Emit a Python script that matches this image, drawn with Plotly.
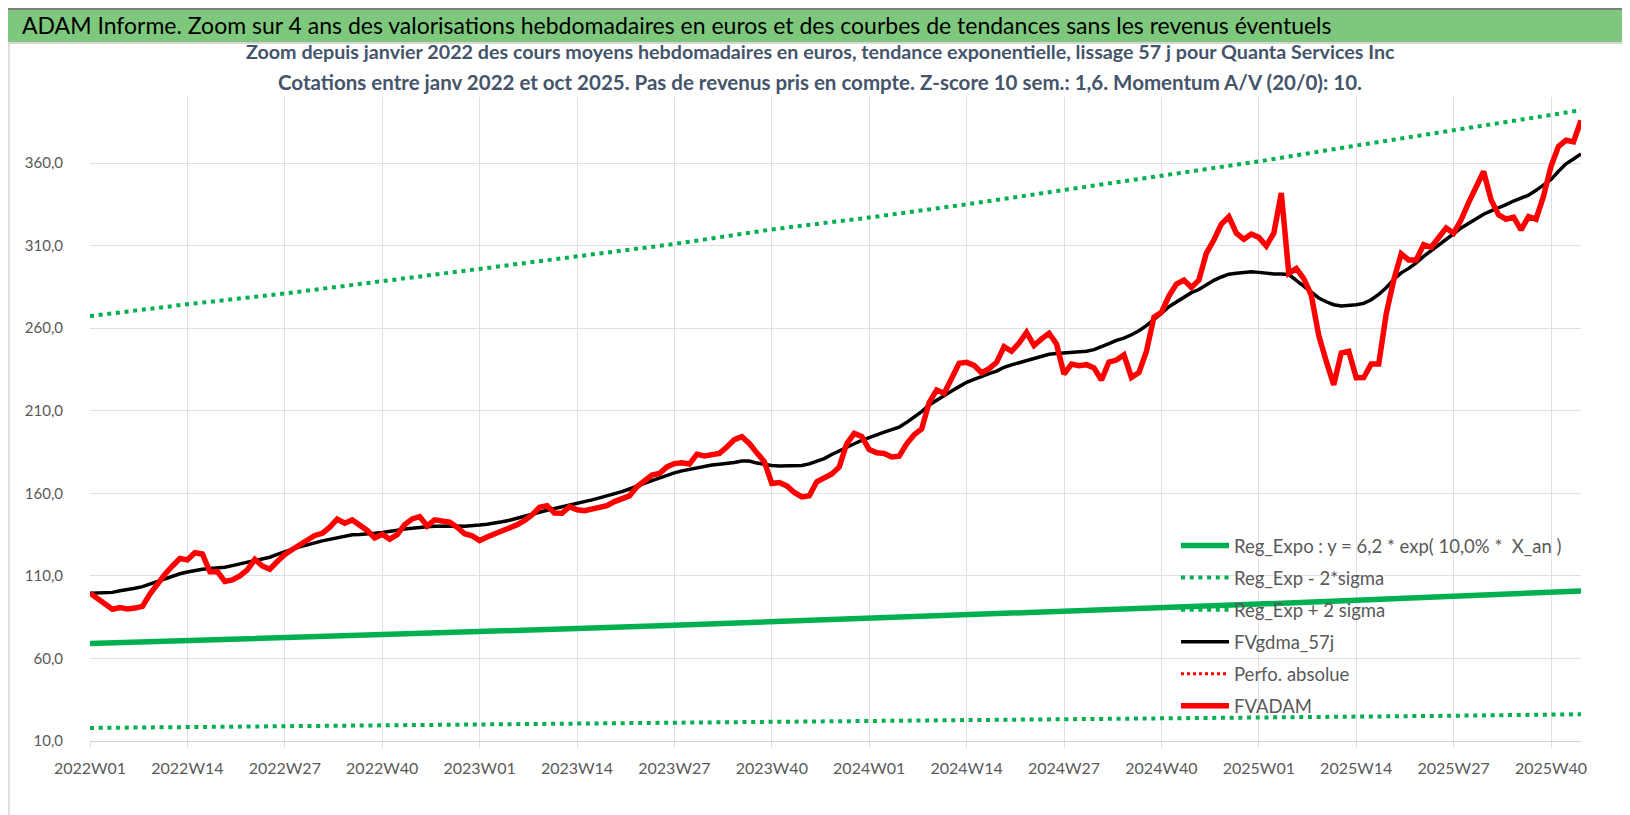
import plotly.graph_objects as go

# semaines ISO 2022W01 .. 2025W44
weeks = [f"{y}W{w:02d}" for y in (2022, 2023, 2024) for w in range(1, 53)]
weeks += [f"2025W{w:02d}" for w in range(1, 45)]
tick_weeks = weeks[::13]

# cours moyens hebdomadaires (FVADAM)
fvadam = [
    99.5, 96, 93, 89.8, 90.8, 90, 90.5, 91.5, 99, 105.6,
    111, 116, 120.5, 119.7, 124, 123.3, 112.5, 112.6, 106.6, 107.5,
    110, 113.6, 120, 116, 114, 118.7, 123, 126, 128.8, 132.5,
    134.5, 135.8, 139.5, 144.3, 141.9, 143.9, 141, 137.5, 133, 135.2,
    132.2, 135, 141, 144.5, 145.9, 140.2, 143.9, 143.5, 142.5, 139.5,
    135.5, 134.2, 131.4, 133.5, 135.4, 137, 138.5, 141, 143.5, 146.9,
    151.5, 152.5, 148, 147.9, 151.9, 150, 149.5, 150.5, 152, 152.5,
    155, 157, 158.4, 164, 168, 171, 172, 176, 178, 178.5,
    177.7, 183.6, 182.6, 183, 184.2, 188, 192.5, 194.3, 190.2, 184.5,
    179.2, 166, 166.5, 164.5, 160.5, 157.8, 158.5, 167, 169.1, 171.7,
    176, 190, 196.3, 194.5, 186.5, 184.5, 184.1, 182, 182.5, 190,
    195.5, 199, 215, 222.5, 220.5, 229, 238.7, 239.3, 237.5, 233,
    235.5, 239.3, 248.8, 246, 251, 257.5, 249.5, 253.5, 256.9, 250.4,
    232.2, 238.3, 237.3, 237.9, 235.9, 228.6, 239.5, 240.7, 243.9, 230.2,
    233.2, 246, 266.6, 269.6, 279.5, 286.7, 289.1, 284.7, 289.1, 305.5,
    313.4, 323, 327.5, 317.5, 313.8, 317, 315, 309.8, 317.5, 341.8,
    293.2, 296.2, 290, 280, 255.5, 240, 225.6, 245, 246, 230,
    230.1, 238.3, 238.3, 268.6, 289.1, 305, 301.3, 301.3, 310.6, 309,
    315.5, 320.7, 317.5, 325.6, 336, 345.8, 354.9, 337.7, 328.6, 326,
    327.2, 319.5, 327.6, 326, 340, 358, 370.1, 373.8, 372.8, 385.9,
]

# moyenne mobile 57 j (FVgdma_57j)
fvgdma_57j = [
    99.5, 99.5, 99.5, 100, 101, 101.5, 102.5, 103.5, 105, 106.6,
    108.3, 110, 111.3, 112.3, 113.3, 114, 114.5, 114.8, 115.2, 116.2,
    117.2, 118.3, 119.4, 120.2, 121.3, 123, 124.8, 126.2, 127.6, 128.6,
    130, 131.2, 132.2, 133.3, 134.4, 134.9, 135.1, 135.3, 135.8, 136.3,
    136.8, 137.6, 138.4, 139, 139.5, 139.8, 140, 140.2, 140.3, 140.2,
    140.1, 140.2, 140.8, 141.3, 141.9, 142.8, 143.7, 145, 146.4, 147.6,
    148.5, 149.7, 150.7, 151.5, 152.6, 154, 155, 156, 157.2, 158.4,
    159.8, 161, 162.6, 164.5, 166, 167.7, 169.3, 171, 172.4, 173.6,
    174.6, 175.6, 176.5, 177.1, 177.6, 178, 178.7, 179.5, 179.5, 178.3,
    177.4, 176.8, 176.5, 176.5, 176.5, 176.8, 177.8, 179.3, 181, 183.5,
    185.8, 188, 190, 192, 193.8, 195.2, 197, 198.6, 200, 203,
    206, 209.5, 213.5, 216.5, 219.5, 222, 224.6, 227.2, 229, 231,
    232.5, 234, 236.3, 237.8, 239.1, 240.5, 242, 243.3, 244.2, 244.6,
    245, 245.2, 245.4, 246, 247, 248.6, 250.6, 252.6, 254, 256,
    258.4, 261.5, 265, 269, 273, 276, 278.5, 281.5, 283.4, 286.5,
    289, 291, 292.7, 293.3, 293.8, 294.1, 293.8, 293.2, 292.8, 292.8,
    292.5, 289, 285.5, 281.5, 278.3, 276, 274.2, 273.5, 273.8, 274.2,
    275, 277.2, 280.5, 284.5, 289.5, 293.5, 296.2, 299.5, 303.5, 306.8,
    310.3, 313.7, 317.2, 320.7, 323.6, 326.5, 329, 331, 332.8, 334.8,
    337, 338.6, 340.5, 343.5, 346.5, 350, 355, 359.5, 362.5, 365.5,
]

# courbes de tendance, relevées toutes les 13 semaines + dernière semaine
trend_weeks = tick_weeks + [weeks[-1]]
reg_expo = [69.0, 70.7, 72.5, 74.3, 76.2, 78.1, 80.1, 82.1, 84.2,
            86.3, 88.4, 90.7, 92.9, 95.3, 97.7, 100.1, 100.9]
reg_moins_2sigma = [17.9, 18.4, 18.8, 19.3, 19.8, 20.3, 20.8, 21.3, 21.8,
                    22.4, 22.9, 23.5, 24.1, 24.7, 25.3, 26.0, 26.2]
reg_plus_2sigma = [267.3, 274.5, 281.0, 288.2, 295.9, 303.5, 311.0, 319.8, 327.0,
                   335.0, 343.5, 352.0, 361.0, 370.6, 379.7, 389.3, 392.0]
# série sans valeur visible sur le graphique (seulement dans la légende)
perfo_absolue = [None]

y_ticks = [10, 60, 110, 160, 210, 260, 310, 360]

W, H = 1630, 815
L, R, T, B = 82, 1573, 89, 733
FONT = "Lato"
GREY = "#595959"


def fx(px):
    return (px - L) / (R - L)


def fy(py):
    return (B - py) / (B - T)


fig = go.Figure()
fig.add_trace(go.Scatter(x=trend_weeks, y=reg_expo, mode="lines",
                         name="Reg_Expo : y = 6,2 * exp( 10,0% *  X_an )",
                         line=dict(color="#00B050", width=5.5), legendgroup="a"))
fig.add_trace(go.Scatter(x=trend_weeks, y=reg_moins_2sigma, mode="lines",
                         name="Reg_Exp - 2*sigma",
                         line=dict(color="#00B050", width=4, dash="4px,4.7px"), legendgroup="b"))
fig.add_trace(go.Scatter(x=trend_weeks, y=reg_plus_2sigma, mode="lines",
                         name="Reg_Exp + 2 sigma",
                         line=dict(color="#00B050", width=4, dash="4px,4.7px"), legendgroup="c"))
fig.add_trace(go.Scatter(x=weeks, y=fvgdma_57j, mode="lines", name="FVgdma_57j",
                         line=dict(color="#000000", width=3.5), legendgroup="d"))
fig.add_trace(go.Scatter(x=weeks[:1], y=perfo_absolue, mode="lines", name="Perfo. absolue",
                         line=dict(color="#FF0000", width=3, dash="3px,3px"), legendgroup="e"))
fig.add_trace(go.Scatter(x=weeks, y=fvadam, mode="lines", name="FVADAM",
                         line=dict(color="#FF0000", width=5.5), legendgroup="f"))

fig.update_xaxes(type="category", categoryorder="array", categoryarray=weeks,
                 range=[0, len(weeks) - 1], tickvals=tick_weeks,
                 showgrid=True, gridcolor="#DDE0E6", gridwidth=1.3,
                 ticks="outside", ticklen=6, tickcolor="#DDE0E6",
                 showline=True, linecolor="#D0D3D9", linewidth=1.3,
                 tickfont=dict(family=FONT, size=16, color=GREY), ticklabelstandoff=7)
fig.update_yaxes(range=[10, 400], tickvals=y_ticks, tickformat=".1f",
                 showgrid=True, gridcolor="#DDE0E6", gridwidth=1.3, zeroline=False,
                 tickfont=dict(family=FONT, size=15, color=GREY), ticklabelstandoff=26)

fig.update_layout(
    width=W, height=H,
    margin=dict(l=L, r=W - R, t=T, b=H - B, autoexpand=False),
    paper_bgcolor="white", plot_bgcolor="white",
    separators=", ",
    showlegend=True,
    legend=dict(x=fx(1168), y=fy(519), xanchor="left", yanchor="top",
                bgcolor="rgba(0,0,0,0)", traceorder="grouped", tracegroupgap=5,
                itemwidth=48,
                font=dict(family=FONT, size=18.5, color=GREY)),
    shapes=[
        dict(type="rect", xref="paper", yref="paper", x0=fx(0), x1=fx(W), y0=fy(34), y1=fy(0),
             fillcolor="#7EC87E", line=dict(width=0), layer="below"),
        dict(type="line", xref="paper", yref="paper", x0=fx(0), x1=fx(W), y0=fy(1), y1=fy(1),
             line=dict(color="#7F7F7F", width=2)),
        dict(type="line", xref="paper", yref="paper", x0=fx(0), x1=fx(W), y0=fy(35), y1=fy(35),
             line=dict(color="#D9D9D9", width=1)),
        dict(type="rect", xref="paper", yref="paper", x0=fx(1), x1=fx(W - 1), y0=fy(H - 2), y1=fy(35),
             line=dict(color="#BFBFBF", width=1)),
    ],
    annotations=[
        dict(xref="paper", yref="paper", x=fx(12), y=fy(17), xanchor="left", yanchor="middle",
             text="ADAM Informe. Zoom sur 4 ans des valorisations hebdomadaires en euros et des courbes de tendances sans les revenus éventuels",
             showarrow=False, font=dict(family=FONT, size=23, color="#000000")),
        dict(xref="paper", yref="paper", x=fx(812), y=fy(43), xanchor="center", yanchor="middle",
             text="<b>Zoom depuis janvier 2022 des cours moyens hebdomadaires en euros, tendance exponentielle, lissage 57 j pour Quanta Services Inc</b>",
             showarrow=False, font=dict(family=FONT, size=19.7, color="#44546A")),
        dict(xref="paper", yref="paper", x=fx(812), y=fy(74), xanchor="center", yanchor="middle",
             text="<b>Cotations entre janv 2022 et oct 2025. Pas de revenus pris en compte. Z-score 10 sem.: 1,6. Momentum A/V (20/0): 10.</b>",
             showarrow=False, font=dict(family=FONT, size=20.5, color="#44546A")),
    ],
)

fig.write_html("out.html")
